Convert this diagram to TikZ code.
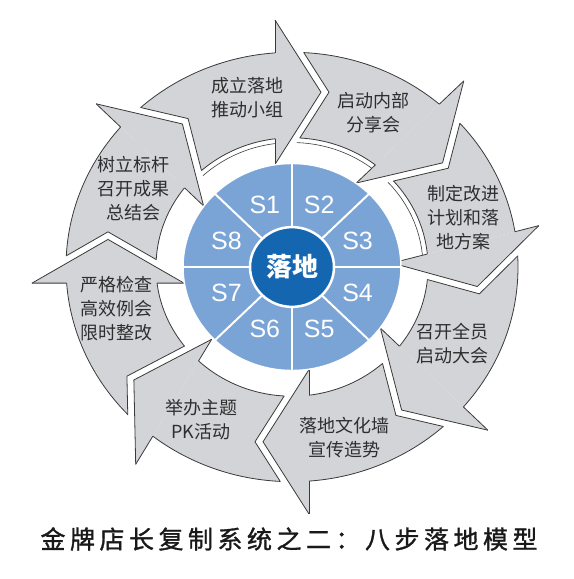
\documentclass[tikz,border=0pt]{standalone}
\usepackage{fontspec}
\setmainfont{Liberation Sans}
\newfontfamily\cjkfont{Noto Sans CJK SC}
\newfontfamily\titlefont[FakeBold=1.2, LetterSpace=18]{Noto Sans CJK SC}
\usepackage{tikz}
\usetikzlibrary{calc}
\usepackage{xcolor}
\definecolor{ringgray}{HTML}{D3D4D8}
\definecolor{rimgray}{HTML}{3A3A3A}
\definecolor{sectorblue}{HTML}{7BA4D6}
\definecolor{coreblue}{HTML}{1466B0}

\begin{document}
\begin{tikzpicture}
	[x=1pt, y=1pt, yscale=0.95,
	rim/.style = {
		draw=rimgray, line width=0.8pt, line join=miter
	},
	steptext/.style = {
		font=\cjkfont\fontsize{18}{24}\selectfont, text=black!82, align=center
	},
	sname/.style = {
		font=\fontsize{25}{25}\selectfont, text=white
	}]
	
	\useasboundingbox (-292,281.05) rectangle (281,-328.42);
	
	%Head corners: inner flange and angle of the base
	\foreach \k/\ix/\iy/\b in {1/-17/108/90, 2/64.3/88.4/45, 3/100/4.2/15, 4/88.4/-64.3/-45,
		5/17/-108/-90, 6/-80.3/-76.1/240, 7/-108/-17/180, 8/-88.4/64.3/135} {
		\coordinate (I\k) at (\ix,\iy);
		\coordinate (O\k) at ($(I\k)+(\b:152)$);
		\coordinate (T\k) at ($(I\k)+(\b:76)+({\b-90}:46)$);
		\coordinate (Io\k) at ($(I\k)+({\b-90}:8)$);
		\coordinate (Oo\k) at ($(O\k)+({\b-90}:8)$);
		\coordinate (To\k) at ($(T\k)+({\b-90}:8)$);
	}
	
	%Draw arrows
	\foreach \k in {1,...,8} {
		\pgfmathtruncatemacro{\p}{mod(\k+6,8)+1}
		\begin{scope}
			\clip (Oo\p) -- (To\p) -- (Io\p) -- (I\k) -- (O\k) -- cycle;
			\fill[ringgray, even odd rule] (0,0) circle[radius=226] (0,0) circle[radius=136];
			\draw[rim] (0,0) circle[radius=226] (0,0) circle[radius=136];
		\end{scope}
		\begin{scope}[even odd rule]
			\clip (0,0) circle[radius=226] (0,0) circle[radius=136];
			\draw[rim] (Oo\p) -- (To\p) -- (Io\p);
		\end{scope}
		\fill[ringgray] (O\k) -- (T\k) -- (I\k) -- cycle;
		\draw[rim] (O\k) -- (T\k) -- (I\k);
		\begin{scope}[even odd rule]
			\clip (-300,-340) rectangle (300,300)
				(0,0) circle[radius=226] (0,0) circle[radius=136];
			\draw[rim] (O\k) -- (I\k);
		\end{scope}
	}
	
	%thin side strip under the upper arrows
	\foreach \k in {1,2,3} {
		\pgfmathtruncatemacro{\p}{mod(\k+6,8)+1}
		\begin{scope}
			\clip (Oo\p) -- (To\p) -- (Io\p) -- (I\k) -- (O\k) -- cycle;
			\draw[rim, line width=0.6pt] (0,0) circle[radius=131];
		\end{scope}
	}
	
	%Draw center disc
	\filldraw[fill=sectorblue, draw=white, line width=1.5pt] (0,0) circle[radius=109];
	\foreach \a in {0,45,...,315}
		\draw[white, line width=2pt] (0,0) -- (\a:109);
	\filldraw[fill=coreblue, draw=white, line width=2.5pt] (0,0) circle[radius=42];
	
	%Draw nodes
	\node[font=\cjkfont\bfseries\fontsize{26}{26}\selectfont, text=white] at (0,0) (core) {落地};
	\foreach \k in {1,...,8}
		\node[sname] at ({112.5-45*(\k-1)}:71) (s\k) {S\k};
	
	\node[steptext] at (-45,177.9) (t1) {成立落地\\推动小组};
	\node[steptext] at (81,162.1) (t2) {启动内部\\分享会};
	\node[steptext] at (171,51.6) (t3) {制定改进\\计划和落\\地方案};
	\node[steptext] at (160,-81.1) (t4) {召开全员\\启动大会};
	\node[steptext] at (52,-180) (t5) {落地文化墙\\宣传造势};
	\node[steptext] at (-91,-161) (t6) {举办主题\\PK活动};
	\node[steptext] at (-175,-44.2) (t7) {严格检查\\高效例会\\限时整改};
	\node[steptext] at (-158,82.1) (t8) {树立标杆\\召开成果\\总结会};
	
	\node[font=\titlefont\fontsize{25}{25}\selectfont, text=black!90]
		at (-3,-286.3) (title) {金牌店长复制系统之二：八步落地模型};
	
\end{tikzpicture}
\end{document}
